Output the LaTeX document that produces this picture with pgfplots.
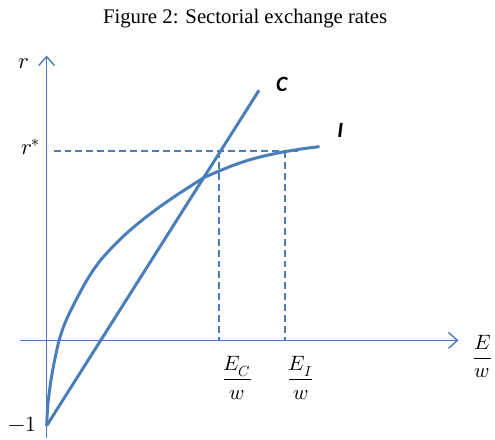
\documentclass[border=0pt]{standalone}
\usepackage{fontspec}
\usepackage{unicode-math}
\setmainfont{Liberation Serif}
\setmathfont{Latin Modern Math}
\newfontfamily\calib{Carlito}
\usepackage{pgfplots}
\pgfplotsset{compat=1.18}
\usetikzlibrary{arrows.meta}
\definecolor{lblue}{HTML}{4A7EBB}
\begin{document}
\begin{tikzpicture}
\begin{axis}[x=1bp, y=1bp, y dir=reverse, xmin=0, xmax=495, ymin=0, ymax=443,
  hide axis, clip=false, anchor=origin, at={(0,0)}]
\path (axis cs:0,0) rectangle (axis cs:495,443);
% axes
\addplot[draw=lblue, line width=1.4bp, -{Straight Barb[length=9bp,width=16bp,line width=1.4bp]}] coordinates {(47,441) (47,56)};
\addplot[draw=lblue, line width=1.4bp, -{Straight Barb[length=9bp,width=16bp,line width=1.4bp]}] coordinates {(20,343) (462,343)};
% dashed guides
\addplot[draw=lblue, solid, line width=1.7bp, dash pattern=on 7bp off 4bp] coordinates {(54,152.5) (300,152.5)};
\addplot[draw=lblue, solid, line width=1.7bp, dash pattern=on 7bp off 4bp] coordinates {(221,152.5) (221,343)};
\addplot[draw=lblue, solid, line width=1.7bp, dash pattern=on 7bp off 4bp] coordinates {(287,152.5) (287,343)};
% line C
\addplot[draw=lblue, line width=3bp] coordinates {(47,429) (261,91)};
% curve I
\addplot[draw=lblue, line width=3bp, line join=round, smooth, tension=0.4] coordinates {
(47,429) (48,410.1) (49,400.4) (51,385.6) (53,373.6) (55,363.2) (57,353.8)
(59.5,343) (64.1,329) (68.75,318.1) (73.4,308.65) (78,299.7) (85,286.7) (93,273.6)
(102,261.4) (113,249.25) (125,237.4) (137,226.9) (150,216.55) (163,206.95)
(177,197.28) (191,188.21) (206,178.8) (221,172.24) (237,165.84) (253,160.6)
(269,156.51) (287,152.87) (305,149.92) (322,147.72)};
% labels
\node[font=\fontsize{21}{24}\selectfont, anchor=base] at (axis cs:247,24) {Figure 2: Sectorial exchange rates};
\node[font=\fontsize{23}{26}\selectfont] at (axis cs:24,64) {$r$};
\node[font=\fontsize{23}{26}\selectfont] at (axis cs:31,148) {$r^{*}$};
\node[font=\fontsize{22}{26}\selectfont] at (axis cs:23,428) {$-1$};
\node[font=\fontsize{21}{24}\selectfont] at (axis cs:239,381) {$\dfrac{E_C}{w}$};
\node[font=\fontsize{21}{24}\selectfont] at (axis cs:303,381) {$\dfrac{E_I}{w}$};
\node[font=\fontsize{21}{24}\selectfont] at (axis cs:486,359) {$\dfrac{E}{w}$};
\node[font=\fontsize{22}{26}\calib\bfseries\itshape] at (axis cs:284,85) {C};
\node[font=\fontsize{22}{26}\calib\bfseries\itshape] at (axis cs:343,131) {I};
\end{axis}
\end{tikzpicture}
\end{document}
